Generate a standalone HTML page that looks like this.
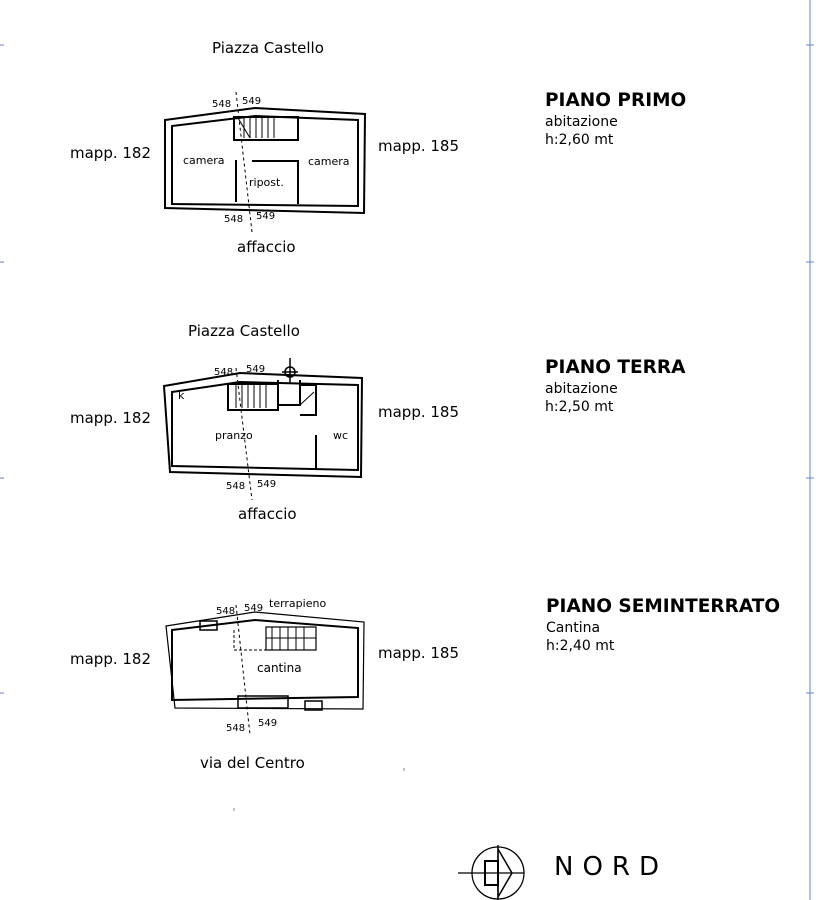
<!DOCTYPE html>
<html><head><style>
body{margin:0;background:#fff;}
svg{display:block;font-family:"DejaVu Sans","Liberation Sans",sans-serif;}
</style></head><body>
<svg width="818" height="900" viewBox="0 0 818 900" xmlns="http://www.w3.org/2000/svg">
<line x1="810" y1="0" x2="810" y2="900" stroke="#6a7fd0" stroke-width="1"/>
<g stroke="#6a7fd0" stroke-width="1">
<line x1="0" y1="45" x2="4" y2="45"/><line x1="0" y1="262" x2="4" y2="262"/><line x1="0" y1="478" x2="4" y2="478"/><line x1="0" y1="693" x2="4" y2="693"/>
<line x1="806" y1="45" x2="814" y2="45"/><line x1="806" y1="262" x2="814" y2="262"/><line x1="806" y1="478" x2="814" y2="478"/><line x1="806" y1="693" x2="814" y2="693"/>
</g>
<g fill="#000" font-size="15">
<text x="212" y="53">Piazza Castello</text>
<text x="70" y="158">mapp. 182</text>
<text x="378" y="151">mapp. 185</text>
<text x="237" y="252">affaccio</text>
<text x="188" y="336">Piazza Castello</text>
<text x="70" y="423">mapp. 182</text>
<text x="378" y="417">mapp. 185</text>
<text x="238" y="519">affaccio</text>
<text x="70" y="664">mapp. 182</text>
<text x="378" y="658">mapp. 185</text>
<text x="200" y="768">via del Centro</text>
<text x="545" y="106" font-weight="bold" font-size="18.5">PIANO PRIMO</text>
<text x="545" y="126" font-size="14">abitazione</text>
<text x="545" y="144" font-size="14">h:2,60 mt</text>
<text x="545" y="373" font-weight="bold" font-size="18.5">PIANO TERRA</text>
<text x="545" y="393" font-size="14">abitazione</text>
<text x="545" y="411" font-size="14">h:2,50 mt</text>
<text x="546" y="612" font-weight="bold" font-size="18.5">PIANO SEMINTERRATO</text>
<text x="546" y="632" font-size="14">Cantina</text>
<text x="546" y="650" font-size="14">h:2,40 mt</text>
<text x="554" y="875" font-size="26" letter-spacing="9">NORD</text>
</g>
<g font-size="10" fill="#000">
<text x="212" y="107">548</text><text x="242" y="104">549</text>
<text x="224" y="222">548</text><text x="256" y="219">549</text>
<g font-size="11"><text x="183" y="164">camera</text><text x="308" y="165">camera</text><text x="249" y="186">ripost.</text></g>
<text x="214" y="375">548</text><text x="246" y="372">549</text>
<text x="226" y="489">548</text><text x="257" y="487">549</text>
<g font-size="11"><text x="178" y="399">k</text><text x="215" y="439">pranzo</text><text x="333" y="439">wc</text></g>
<text x="216" y="614">548</text><text x="244" y="611">549</text><text x="269" y="607" font-size="11">terrapieno</text>
<text x="226" y="731">548</text><text x="258" y="726">549</text>
<text x="257" y="672" font-size="12">cantina</text>
</g>
<g fill="none" stroke="#000">
<polygon points="165,120 255,108 365,114 364,213 165,208" stroke-width="2"/>
<polygon points="172,126 255,116 358,120 358,206 172,204" stroke-width="2"/>
<rect x="234" y="117" width="64" height="23" stroke-width="2"/>
<g stroke-width="1"><line x1="244" y1="117" x2="244" y2="138"/><line x1="250" y1="117" x2="250" y2="138"/><line x1="256" y1="117" x2="256" y2="138"/><line x1="262" y1="117" x2="262" y2="138"/><line x1="268" y1="117" x2="268" y2="138"/><line x1="274" y1="117" x2="274" y2="138"/><line x1="238" y1="118" x2="250" y2="138"/></g>
<line x1="236" y1="160" x2="236" y2="202" stroke-width="2"/>
<polyline points="252,161 298,161 298,204" stroke-width="2"/>
<line x1="236" y1="92" x2="252" y2="232" stroke-dasharray="3,3"/>
<polygon points="164,386 240,373 362,378 361,477 170,472" stroke-width="2"/>
<polygon points="172,392 240,382 358,385 358,470 172,466" stroke-width="2"/>
<rect x="228" y="384" width="50" height="26" stroke-width="2"/>
<g stroke-width="1"><line x1="236" y1="384" x2="236" y2="408"/><line x1="242" y1="384" x2="242" y2="408"/><line x1="248" y1="384" x2="248" y2="408"/><line x1="254" y1="384" x2="254" y2="408"/><line x1="260" y1="384" x2="260" y2="408"/><line x1="266" y1="384" x2="266" y2="408"/></g>
<polyline points="278,380 278,405 300,405 300,380" stroke-width="2"/>
<polyline points="300,385 316,385 316,415 300,415" stroke-width="2"/>
<line x1="300" y1="405" x2="314" y2="392"/>
<line x1="316" y1="435" x2="316" y2="470" stroke-width="2"/>
<circle cx="290" cy="372" r="5" stroke-width="1.5"/><line x1="290" y1="358" x2="290" y2="384" stroke-width="1.5"/><line x1="282" y1="372" x2="298" y2="372" stroke-width="1.5"/>
<line x1="236" y1="368" x2="252" y2="500" stroke-dasharray="3,3"/>
<polygon points="166,626 255,612 364,622 363,709 175,708" stroke-width="1.2"/>
<polygon points="172,630 255,620 358,628 358,697 172,700" stroke-width="2"/>
<rect x="200" y="621" width="17" height="9" stroke-width="1.5"/>
<polyline points="234,630 234,650 316,650 316,628" stroke-dasharray="3,2"/>
<rect x="266" y="627" width="50" height="23" stroke-width="1.2"/>
<g stroke-width="1"><line x1="272" y1="627" x2="272" y2="650"/><line x1="280" y1="627" x2="280" y2="650"/><line x1="288" y1="627" x2="288" y2="650"/><line x1="296" y1="627" x2="296" y2="650"/><line x1="304" y1="627" x2="304" y2="650"/><line x1="266" y1="638" x2="316" y2="638"/></g>
<rect x="238" y="696" width="50" height="12" stroke-width="1.5"/>
<rect x="305" y="701" width="17" height="9" stroke-width="1.5"/>
<line x1="236" y1="605" x2="250" y2="735" stroke-dasharray="3,3"/>
<circle cx="498" cy="873" r="26" stroke-width="1.3"/>
<line x1="458" y1="873" x2="524" y2="873" stroke-width="1.3"/>
<line x1="498" y1="845" x2="498" y2="900" stroke-width="1.3"/>
<polygon points="498,849 512,873 498,897" stroke-width="1.5"/>
<rect x="485" y="861" width="13" height="24" stroke-width="2"/>
</g>
<line x1="234" y1="808" x2="234" y2="811" stroke="#888"/>
<line x1="404" y1="768" x2="404" y2="771" stroke="#888"/>
</svg>
</body></html>
